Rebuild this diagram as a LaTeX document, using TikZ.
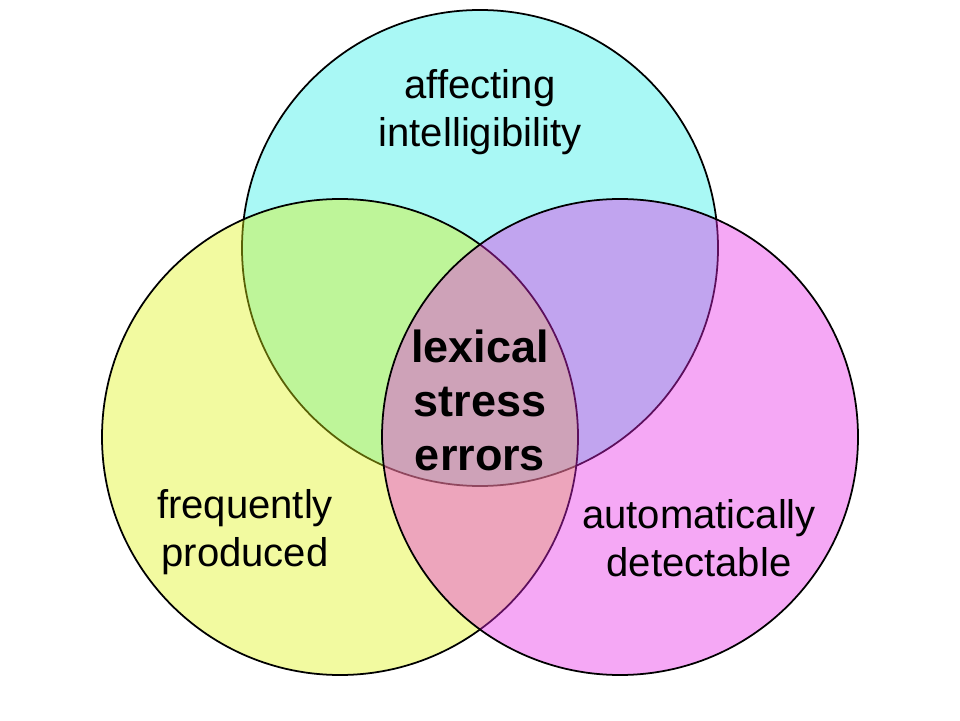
\documentclass[tikz,border=0pt]{standalone}
\usepackage{fontspec}
\setmainfont{Liberation Sans}
\definecolor{setcyan}{HTML}{28EEE6}
\definecolor{setyellow}{HTML}{DEF211}
\definecolor{setmagenta}{HTML}{E626E6}
\tikzset{
  setlabel/.style={align=center, font=\fontsize{22.8}{27.3}\selectfont},
  corelabel/.style={align=center, font=\fontsize{25.6}{30.7}\selectfont\bfseries},
}
\begin{document}
\begin{tikzpicture}
\useasboundingbox (0,0) rectangle (19.2,14.4);
\def\ring{circle [radius=4.76]}
\filldraw[fill=setcyan, fill opacity=0.4, line width=1pt] (9.6,9.44) \ring;
\filldraw[fill=setyellow, fill opacity=0.4, line width=1pt] (6.8,5.66) \ring;
\filldraw[fill=setmagenta, fill opacity=0.4, line width=1pt] (12.4,5.66) \ring;
\node[setlabel] (affect) at (9.6,12.16) {affecting\\intelligibility};
\node[setlabel] (freq) at (4.9,3.76) {frequently\\produced};
\node[setlabel] (detect) at (13.98,3.64) {automatically\\detectable};
\node[corelabel] (core) at (9.6,6.4) {lexical\\stress\\errors};
\end{tikzpicture}
\end{document}
